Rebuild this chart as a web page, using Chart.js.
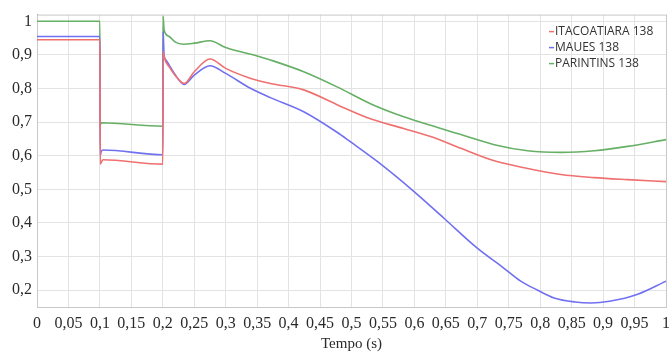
<!DOCTYPE html>
<html>
<head>
<meta charset="utf-8">
<script src="https://cdn.jsdelivr.net/npm/chart.js@4"></script>
<style>
  html, body { margin: 0; padding: 0; background: #fff; }
  #wrap { width: 670px; height: 353px; }
</style>
</head>
<body>
<div id="wrap"><canvas id="chart"></canvas></div>
<script>
// values
const seriesNames = ['ITACOATIARA 138', 'MAUES 138', 'PARINTINS 138'];

const tItacoatiara = [0, 0.1, 0.1005, 0.102, 0.105, 0.2, 0.2005, 0.203, 0.21, 0.22, 0.234, 0.25, 0.275, 0.3, 0.34, 0.371, 0.424, 0.477, 0.53, 0.583, 0.637, 0.674, 0.727, 0.78, 0.833, 0.886, 0.939, 1.0];
const vItacoatiara = [0.945, 0.945, 0.575, 0.58, 0.588, 0.575, 0.91, 0.888, 0.865, 0.838, 0.815, 0.85, 0.888, 0.86, 0.83, 0.815, 0.796, 0.752, 0.71, 0.681, 0.65, 0.622, 0.585, 0.562, 0.544, 0.535, 0.529, 0.523];

const tMaues = [0, 0.1, 0.1005, 0.102, 0.105, 0.2, 0.2005, 0.202, 0.205, 0.21, 0.22, 0.234, 0.25, 0.275, 0.3, 0.34, 0.371, 0.424, 0.477, 0.498, 0.541, 0.599, 0.647, 0.70, 0.742, 0.769, 0.796, 0.822, 0.855, 0.881, 0.91, 0.955, 1.0];
const vMaues = [0.955, 0.955, 0.6, 0.612, 0.617, 0.603, 0.97, 0.9, 0.885, 0.87, 0.84, 0.812, 0.84, 0.868, 0.845, 0.8, 0.773, 0.731, 0.67, 0.642, 0.583, 0.494, 0.414, 0.325, 0.266, 0.227, 0.2, 0.177, 0.165, 0.162, 0.167, 0.188, 0.227];

const tParintins = [0, 0.1, 0.1005, 0.102, 0.2, 0.2005, 0.202, 0.21, 0.22, 0.233, 0.25, 0.275, 0.3, 0.35, 0.371, 0.424, 0.477, 0.53, 0.583, 0.637, 0.674, 0.727, 0.78, 0.833, 0.886, 0.939, 1.0];
const vParintins = [1.0, 1.0, 0.69, 0.698, 0.688, 1.015, 0.975, 0.955, 0.938, 0.932, 0.935, 0.942, 0.922, 0.897, 0.885, 0.85, 0.805, 0.755, 0.716, 0.684, 0.663, 0.633, 0.615, 0.61, 0.615, 0.628, 0.648];

const xTicks = [0, 0.05, 0.1, 0.15, 0.2, 0.25, 0.3, 0.35, 0.4, 0.45, 0.5, 0.55, 0.6, 0.65, 0.7, 0.75, 0.8, 0.85, 0.9, 0.95, 1];
const yTicks = [0.2, 0.3, 0.4, 0.5, 0.6, 0.7, 0.8, 0.9, 1];

const colors = ['#f07070', '#7070f0', '#66b066'];

function pts(ts, vs) {
    return ts.map((t, i) => ({ x: t, y: vs[i] }));
}

function comma(v) {
    return String(Math.round(v * 100) / 100).replace('.', ',');
}

// legend drawn inside the plot, top right
const innerLegend = {
    id: 'innerLegend',
    afterDraw(chart) {
        const ctx = chart.ctx;
        const area = chart.chartArea;
        ctx.save();
        ctx.font = '12px "Open Sans", sans-serif';
        ctx.textBaseline = 'middle';
        chart.data.datasets.forEach((ds, i) => {
            const y = area.top + 17 + i * 16;
            const x = area.right - 111;
            ctx.strokeStyle = ds.borderColor;
            ctx.lineWidth = 1.5;
            ctx.beginPath();
            ctx.moveTo(x - 6, y);
            ctx.lineTo(x - 1, y);
            ctx.stroke();
            ctx.fillStyle = '#333';
            ctx.fillText(ds.label, x, y);
        });
        ctx.restore();
    }
};

// light frame round the plot area
const frame = {
    id: 'frame',
    beforeDatasetsDraw(chart) {
        const ctx = chart.ctx;
        const a = chart.chartArea;
        ctx.save();
        ctx.strokeStyle = '#c8c8c8';
        ctx.lineWidth = 1;
        ctx.strokeRect(a.left + 0.5, a.top + 0.5, a.right - a.left, a.bottom - a.top);
        ctx.restore();
    }
};

new Chart(document.getElementById('chart'), {
    type: 'line',
    data: {
        datasets: [
            { label: seriesNames[0], data: pts(tItacoatiara, vItacoatiara), borderColor: colors[0] },
            { label: seriesNames[1], data: pts(tMaues, vMaues), borderColor: colors[1] },
            { label: seriesNames[2], data: pts(tParintins, vParintins), borderColor: colors[2] },
        ]
    },
    options: {
        responsive: true,
        maintainAspectRatio: false,
        animation: false,
        layout: { padding: { top: 13, right: 4, left: 0, bottom: 0 } },
        elements: {
            point: { radius: 0 },
            line: { borderWidth: 1.6, cubicInterpolationMode: 'monotone' }
        },
        plugins: {
            legend: { display: false },
            tooltip: { enabled: false }
        },
        scales: {
            x: {
                type: 'linear',
                min: 0,
                max: 1,
                afterFit: s => { s.height = 46; s.paddingLeft = 0; s.paddingRight = 0; },
                afterBuildTicks: s => { s.ticks = xTicks.map(v => ({ value: v })); },
                grid: { color: '#e3e3e3', drawTicks: false },
                border: { color: '#9a9a9a' },
                ticks: {
                    padding: 7,
                    maxRotation: 0,
                    autoSkip: false,
                    color: '#2a2a2a',
                    font: { family: '"Liberation Serif", serif', size: 16 },
                    callback: v => comma(v)
                },
                title: {
                    display: true,
                    text: 'Tempo (s)',
                    color: '#2a2a2a',
                    padding: { top: 0, bottom: 0 },
                    font: { family: '"Liberation Serif", serif', size: 15 }
                }
            },
            y: {
                min: 0.15,
                max: 1.02,
                afterFit: s => { s.width = 37; },
                afterBuildTicks: s => { s.ticks = yTicks.map(v => ({ value: v })); },
                grid: { color: '#e3e3e3', drawTicks: false },
                border: { color: '#9a9a9a' },
                ticks: {
                    padding: 5,
                    color: '#2a2a2a',
                    font: { family: '"Liberation Serif", serif', size: 16 },
                    callback: v => comma(v)
                }
            }
        }
    },
    plugins: [frame, innerLegend]
});
</script>
</body>
</html>
